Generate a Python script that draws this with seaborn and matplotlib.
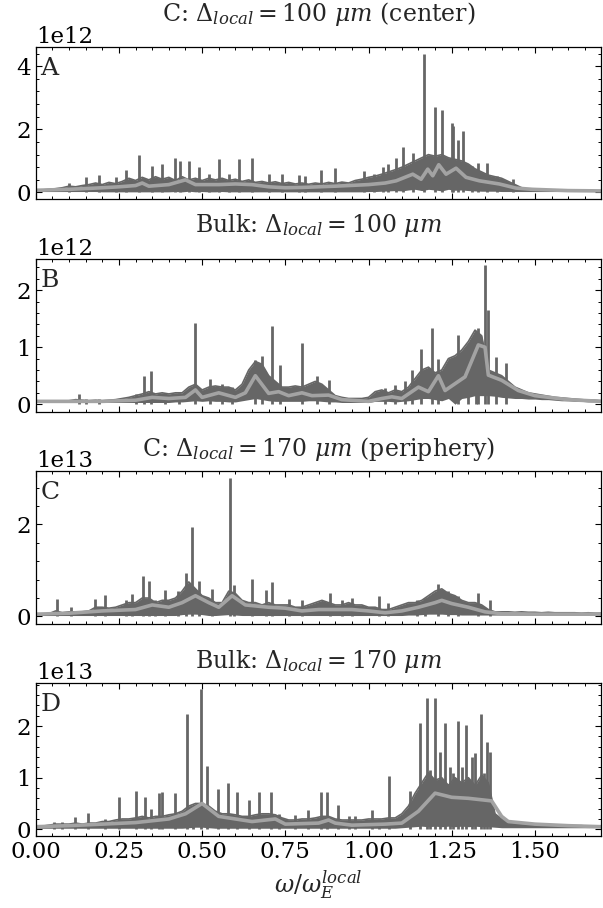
import numpy as np
import pandas as pd
import matplotlib
matplotlib.use("Agg")
import matplotlib.pyplot as plt
from matplotlib.ticker import MultipleLocator, AutoMinorLocator
import seaborn as sns

sns.set_theme(style="ticks", rc={
    "axes.edgecolor": "black",
    "axes.linewidth": 0.9,
    "xtick.direction": "in",
    "ytick.direction": "in",
    "xtick.top": True,
    "ytick.right": True,
    "xtick.major.size": 4.3,
    "ytick.major.size": 4.3,
    "xtick.minor.size": 2.4,
    "ytick.minor.size": 2.4,
    "xtick.major.width": 0.8,
    "ytick.major.width": 0.8,
    "xtick.minor.width": 0.7,
    "ytick.minor.width": 0.7,
    "xtick.color": "black",
    "ytick.color": "black",
    "xtick.labelsize": 16.5,
    "ytick.labelsize": 16.5,
})
plt.rcParams["font.family"] = ["DejaVu Serif"]
plt.rcParams["mathtext.fontset"] = "dejavuserif"

DARK = "#666666"
LIGHT = "#a3a3a3"

# frequency grid of the spectra (omega / omega_E^local), step 0.02
omega = np.round(np.arange(0, 1.7001, 0.02), 2)

# ---- panel A : C, 100 um (center), units 1e12 ----
A_hi = [0.07, 0.08, 0.10, 0.12, 0.15, 0.20, 0.18, 0.22, 0.25, 0.30,
        0.25, 0.32, 0.28, 0.35, 0.45, 0.38, 0.48, 0.40, 0.50, 0.42,
        0.48, 0.38, 0.50, 0.40, 0.45, 0.38, 0.45, 0.40, 0.45, 0.38,
        0.42, 0.35, 0.40, 0.32, 0.35, 0.30, 0.34, 0.28, 0.32, 0.27,
        0.30, 0.26, 0.30, 0.27, 0.32, 0.28, 0.33, 0.30, 0.38, 0.42,
        0.48, 0.52, 0.58, 0.65, 0.72, 0.80, 0.90, 1.00, 1.10, 1.20,
        1.15, 1.20, 1.10, 1.05, 1.00, 0.90, 0.75, 0.65, 0.55, 0.50,
        0.45, 0.35, 0.25, 0.15, 0.10, 0.08, 0.07, 0.07, 0.07, 0.06,
        0.06, 0.06, 0.06, 0.05, 0.05, 0.05]
A_lo = [0.03, 0.03, 0.03, 0.03, 0.03, 0.03, 0.03, 0.03, 0.03, 0.03,
        0.02, 0.02, 0.02, 0.02, 0.02, 0.02, 0.02, 0.02, 0.02, 0.02,
        0.02, 0.03, 0.02, 0.04, 0.02, 0.03, 0.02, 0.02, 0.03, 0.02,
        0.02, 0.02, 0.02, 0.02, 0.02, 0.02, 0.02, 0.02, 0.02, 0.02,
        0.02, 0.02, 0.02, 0.02, 0.02, 0.02, 0.02, 0.02, 0.02, 0.02,
        0.03, 0.03, 0.04, 0.05, 0.06, 0.05, 0.08, 0.10, 0.06, 0.10,
        0.08, 0.05, 0.10, 0.07, 0.08, 0.06, 0.05, 0.04, 0.04, 0.04,
        0.03, 0.03, 0.03, 0.03, 0.03, 0.03, 0.03, 0.03, 0.03, 0.03,
        0.03, 0.03, 0.03, 0.03, 0.03, 0.03]
A_spike_x = [0.10, 0.15, 0.19, 0.24, 0.27, 0.31, 0.35, 0.38, 0.42, 0.435,
             0.46, 0.49, 0.52, 0.55, 0.58, 0.61, 0.65, 0.70, 0.74, 0.79,
             0.81, 0.856, 0.90, 0.985, 1.015, 1.045, 1.06, 1.082, 1.105, 1.135,
             1.168, 1.20, 1.222, 1.25, 1.255, 1.268, 1.283, 1.31, 1.33, 1.355,
             1.387, 1.434]
A_spike_h = [0.30, 0.50, 0.55, 0.50, 0.70, 1.18, 0.85, 0.90, 1.10, 1.00,
             1.00, 0.80, 0.60, 1.05, 0.60, 1.05, 1.10, 0.60, 0.60, 0.55,
             0.53, 0.72, 0.78, 0.69, 0.60, 0.80, 0.90, 1.10, 1.43, 1.24,
             4.40, 2.70, 2.60, 2.20, 2.10, 1.65, 1.94, 0.85, 0.95, 0.95,
             0.53, 0.42]
A_smooth_x = [0.0, 0.1, 0.2, 0.25, 0.3, 0.32, 0.34, 0.4, 0.45, 0.48,
              0.55, 0.6, 0.65, 0.7, 0.75, 0.8, 0.9, 1.0, 1.05, 1.083,
              1.133, 1.158, 1.178, 1.193, 1.211, 1.233, 1.263, 1.293, 1.333, 1.393,
              1.443, 1.493, 1.6, 1.7]
A_smooth_y = [0.07, 0.10, 0.15, 0.18, 0.22, 0.30, 0.20, 0.25, 0.40, 0.25,
              0.25, 0.27, 0.25, 0.18, 0.15, 0.16, 0.20, 0.25, 0.30, 0.37,
              0.58, 0.42, 0.74, 0.53, 0.88, 0.58, 0.77, 0.48, 0.37, 0.27,
              0.14, 0.10, 0.06, 0.05]

# ---- panel B : Bulk, 100 um, units 1e12 ----
B_hi = [0.05, 0.05, 0.05, 0.05, 0.05, 0.06, 0.08, 0.07, 0.06, 0.07,
        0.06, 0.07, 0.08, 0.10, 0.12, 0.15, 0.18, 0.22, 0.18, 0.20,
        0.18, 0.20, 0.20, 0.30, 0.35, 0.25, 0.30, 0.32, 0.30, 0.30,
        0.25, 0.35, 0.60, 0.75, 0.70, 0.50, 0.40, 0.30, 0.30, 0.32,
        0.30, 0.35, 0.40, 0.35, 0.25, 0.15, 0.12, 0.10, 0.10, 0.10,
        0.12, 0.22, 0.25, 0.20, 0.25, 0.22, 0.30, 0.45, 0.60, 0.65,
        0.55, 0.60, 0.80, 0.85, 0.95, 1.10, 1.30, 1.20, 0.60, 0.55,
        0.50, 0.40, 0.30, 0.25, 0.20, 0.18, 0.16, 0.14, 0.12, 0.11,
        0.10, 0.09, 0.08, 0.07, 0.07, 0.06]
B_lo = [0.03, 0.03, 0.03, 0.03, 0.03, 0.03, 0.03, 0.03, 0.03, 0.03,
        0.03, 0.03, 0.03, 0.03, 0.03, 0.03, 0.03, 0.03, 0.03, 0.03,
        0.03, 0.04, 0.04, 0.05, 0.06, 0.05, 0.06, 0.05, 0.05, 0.04,
        0.04, 0.06, 0.08, 0.10, 0.08, 0.06, 0.05, 0.05, 0.05, 0.05,
        0.05, 0.06, 0.06, 0.05, 0.04, 0.04, 0.03, 0.03, 0.03, 0.03,
        0.03, 0.05, 0.05, 0.05, 0.04, 0.05, 0.06, 0.08, 0.10, 0.10,
        0.08, 0.06, 0.10, 0.00, 0.10, 0.12, 0.15, 0.15, 0.15, 0.14,
        0.12, 0.11, 0.10, 0.10, 0.09, 0.09, 0.08, 0.08, 0.07, 0.06,
        0.06, 0.05, 0.05, 0.04, 0.04, 0.04]
B_spike_x = [0.13, 0.15, 0.19, 0.30, 0.325, 0.345, 0.39, 0.43, 0.48, 0.525,
             0.56, 0.59, 0.66, 0.681, 0.711, 0.734, 0.80, 0.846, 0.88, 1.05,
             1.08, 1.11, 1.13, 1.158, 1.19, 1.208, 1.268, 1.30, 1.324, 1.33,
             1.349, 1.36, 1.384, 1.414]
B_spike_h = [0.18, 0.10, 0.10, 0.18, 0.50, 0.58, 0.20, 0.20, 1.42, 0.45,
             0.35, 0.30, 0.77, 0.84, 1.37, 0.68, 1.08, 0.50, 0.42, 0.28,
             0.33, 0.41, 0.60, 0.96, 1.33, 0.80, 1.22, 1.04, 1.15, 1.33,
             2.44, 1.65, 0.83, 0.73]
B_smooth_x = [0.0, 0.2, 0.3, 0.35, 0.4, 0.45, 0.48, 0.5, 0.55, 0.6,
              0.63, 0.66, 0.7, 0.73, 0.76, 0.8, 0.83, 0.88, 0.92, 1.0,
              1.04, 1.07, 1.1, 1.15, 1.18, 1.21, 1.23, 1.29, 1.33, 1.35,
              1.36, 1.4, 1.45, 1.5, 1.6, 1.7]
B_smooth_y = [0.05, 0.05, 0.07, 0.12, 0.10, 0.12, 0.25, 0.12, 0.20, 0.12,
              0.20, 0.50, 0.19, 0.22, 0.15, 0.20, 0.15, 0.16, 0.08, 0.05,
              0.10, 0.13, 0.10, 0.30, 0.22, 0.50, 0.24, 0.48, 1.04, 1.00,
              0.51, 0.42, 0.24, 0.15, 0.08, 0.05]

# ---- panel C : C, 170 um (periphery), units 1e13 ----
C_hi = [0.05, 0.05, 0.06, 0.12, 0.08, 0.10, 0.10, 0.10, 0.12, 0.20,
        0.20, 0.18, 0.20, 0.25, 0.30, 0.30, 0.40, 0.40, 0.30, 0.35,
        0.35, 0.40, 0.55, 0.75, 0.60, 0.45, 0.40, 0.30, 0.30, 0.55,
        0.50, 0.35, 0.30, 0.30, 0.25, 0.30, 0.25, 0.25, 0.25, 0.20,
        0.20, 0.25, 0.30, 0.35, 0.30, 0.25, 0.25, 0.30, 0.25, 0.25,
        0.20, 0.20, 0.15, 0.15, 0.20, 0.25, 0.30, 0.30, 0.35, 0.45,
        0.55, 0.60, 0.50, 0.45, 0.35, 0.30, 0.30, 0.25, 0.15, 0.10,
        0.10, 0.10, 0.09, 0.10, 0.09, 0.09, 0.08, 0.09, 0.08, 0.08,
        0.08, 0.08, 0.07, 0.08, 0.07, 0.07]
C_lo = [0.02, 0.02, 0.02, 0.02, 0.02, 0.02, 0.02, 0.02, 0.02, 0.02,
        0.02, 0.02, 0.02, 0.02, 0.02, 0.02, 0.02, 0.02, 0.02, 0.02,
        0.02, 0.02, 0.04, 0.05, 0.05, 0.04, 0.02, 0.02, 0.03, 0.04,
        0.03, 0.02, 0.02, 0.02, 0.02, 0.02, 0.02, 0.02, 0.02, 0.02,
        0.02, 0.02, 0.02, 0.02, 0.02, 0.02, 0.02, 0.02, 0.02, 0.02,
        0.02, 0.02, 0.02, 0.02, 0.02, 0.02, 0.03, 0.03, 0.04, 0.05,
        0.05, 0.05, 0.04, 0.04, 0.03, 0.03, 0.03, 0.03, 0.03, 0.03,
        0.03, 0.03, 0.03, 0.03, 0.03, 0.03, 0.03, 0.03, 0.03, 0.03,
        0.03, 0.03, 0.03, 0.03, 0.03, 0.03]
C_spike_x = [0.063, 0.106, 0.177, 0.207, 0.272, 0.29, 0.322, 0.34, 0.357, 0.389,
             0.427, 0.452, 0.47, 0.492, 0.53, 0.584, 0.596, 0.651, 0.691, 0.711,
             0.76, 0.80, 0.885, 0.92, 0.95, 1.03, 1.06, 1.145, 1.17, 1.21,
             1.24, 1.27, 1.33, 1.365]
C_spike_h = [0.38, 0.20, 0.37, 0.47, 0.36, 0.48, 0.87, 0.78, 0.36, 0.58,
             0.55, 0.94, 1.95, 0.76, 0.60, 3.00, 0.69, 0.81, 0.58, 0.74,
             0.38, 0.35, 0.50, 0.35, 0.40, 0.45, 0.30, 0.35, 0.40, 0.70,
             0.55, 0.45, 0.50, 0.35]
C_smooth_x = [0.0, 0.1, 0.2, 0.3, 0.35, 0.4, 0.44, 0.48, 0.52, 0.55,
              0.59, 0.63, 0.7, 0.75, 0.8, 0.85, 0.95, 1.0, 1.05, 1.1,
              1.15, 1.2, 1.22, 1.25, 1.3, 1.35, 1.4, 1.5, 1.7]
C_smooth_y = [0.05, 0.07, 0.12, 0.15, 0.25, 0.20, 0.30, 0.45, 0.30, 0.20,
              0.45, 0.25, 0.20, 0.18, 0.12, 0.15, 0.15, 0.12, 0.08, 0.12,
              0.20, 0.30, 0.35, 0.28, 0.20, 0.10, 0.06, 0.05, 0.05]

# ---- panel D : Bulk, 170 um, units 1e13 ----
D_hi = [0.05, 0.06, 0.08, 0.10, 0.10, 0.10, 0.12, 0.10, 0.12, 0.12,
        0.15, 0.15, 0.18, 0.20, 0.20, 0.22, 0.25, 0.22, 0.25, 0.25,
        0.28, 0.30, 0.35, 0.45, 0.50, 0.50, 0.45, 0.35, 0.30, 0.30,
        0.28, 0.25, 0.25, 0.28, 0.30, 0.30, 0.28, 0.22, 0.18, 0.18,
        0.20, 0.20, 0.22, 0.25, 0.25, 0.20, 0.18, 0.18, 0.18, 0.18,
        0.20, 0.20, 0.20, 0.22, 0.22, 0.30, 0.45, 0.70, 0.90, 1.10,
        0.95, 1.00, 0.85, 1.00, 0.90, 1.00, 0.85, 1.05, 0.90, 0.30,
        0.20, 0.15, 0.12, 0.11, 0.10, 0.09, 0.09, 0.08, 0.08, 0.08,
        0.07, 0.07, 0.07, 0.06, 0.06, 0.06]
D_lo = [0.02, 0.02, 0.02, 0.02, 0.02, 0.02, 0.02, 0.02, 0.02, 0.02,
        0.02, 0.02, 0.02, 0.02, 0.02, 0.02, 0.02, 0.02, 0.02, 0.02,
        0.02, 0.02, 0.02, 0.03, 0.04, 0.04, 0.03, 0.02, 0.02, 0.02,
        0.02, 0.02, 0.02, 0.02, 0.02, 0.02, 0.02, 0.02, 0.02, 0.02,
        0.02, 0.02, 0.02, 0.02, 0.02, 0.02, 0.02, 0.02, 0.02, 0.02,
        0.02, 0.02, 0.02, 0.02, 0.02, 0.03, 0.04, 0.05, 0.06, 0.05,
        0.06, 0.05, 0.06, 0.05, 0.06, 0.05, 0.06, 0.05, 0.05, 0.04,
        0.03, 0.03, 0.03, 0.03, 0.03, 0.03, 0.03, 0.03, 0.03, 0.03,
        0.03, 0.03, 0.03, 0.03, 0.03, 0.03]
D_spike_x = [0.055, 0.08, 0.118, 0.157, 0.207, 0.25, 0.302, 0.327, 0.347, 0.37,
             0.38, 0.42, 0.454, 0.474, 0.497, 0.514, 0.548, 0.579, 0.606, 0.64,
             0.671, 0.706, 0.73, 0.78, 0.819, 0.856, 0.876, 0.908, 0.94, 0.96,
             1.01, 1.03, 1.062, 1.125, 1.155, 1.175, 1.185, 1.20, 1.215, 1.23,
             1.245, 1.255, 1.268, 1.28, 1.292, 1.31, 1.32, 1.337, 1.347, 1.357,
             1.365]
D_spike_h = [0.15, 0.15, 0.23, 0.31, 0.20, 0.63, 0.74, 0.62, 0.39, 0.71,
             0.73, 0.70, 2.23, 0.45, 2.71, 1.23, 0.79, 0.89, 0.73, 0.57,
             0.73, 0.72, 0.30, 0.28, 0.38, 0.73, 0.73, 0.48, 0.25, 0.25,
             0.38, 0.20, 1.03, 0.74, 2.05, 2.55, 1.15, 2.55, 1.50, 2.05,
             1.20, 1.10, 2.10, 1.20, 2.02, 1.40, 1.47, 2.23, 1.10, 1.70,
             1.50]
D_smooth_x = [0.0, 0.1, 0.2, 0.3, 0.4, 0.45, 0.5, 0.55, 0.6, 0.65,
              0.72, 0.75, 0.85, 0.88, 0.9, 0.95, 1.05, 1.1, 1.15, 1.2,
              1.25, 1.3, 1.37, 1.4, 1.42, 1.5, 1.6, 1.7]
D_smooth_y = [0.05, 0.07, 0.10, 0.13, 0.20, 0.30, 0.50, 0.25, 0.20, 0.15,
              0.20, 0.10, 0.12, 0.18, 0.12, 0.08, 0.10, 0.12, 0.35, 0.70,
              0.62, 0.60, 0.55, 0.25, 0.15, 0.10, 0.07, 0.05]

panels = [
    dict(label="A", scale=1e12, hi=A_hi, lo=A_lo, sx=A_spike_x, sh=A_spike_h,
         mx=A_smooth_x, my=A_smooth_y, ylim=(-0.22, 4.62), major=2,
         title=r"C: $\Delta_{local} = 100\ \mu m$ (center)", tpad=33),
    dict(label="B", scale=1e12, hi=B_hi, lo=B_lo, sx=B_spike_x, sh=B_spike_h,
         mx=B_smooth_x, my=B_smooth_y, ylim=(-0.13, 2.55), major=1,
         title=r"Bulk: $\Delta_{local} = 100\ \mu m$", tpad=33),
    dict(label="C", scale=1e13, hi=C_hi, lo=C_lo, sx=C_spike_x, sh=C_spike_h,
         mx=C_smooth_x, my=C_smooth_y, ylim=(-0.16, 3.16), major=2,
         title=r"C: $\Delta_{local} = 170\ \mu m$ (periphery)", tpad=22),
    dict(label="D", scale=1e13, hi=D_hi, lo=D_lo, sx=D_spike_x, sh=D_spike_h,
         mx=D_smooth_x, my=D_smooth_y, ylim=(-0.13, 2.83), major=1,
         title=r"Bulk: $\Delta_{local} = 170\ \mu m$", tpad=22),
]

fig, axes = plt.subplots(4, 1, figsize=(6.03, 9.08), dpi=100, sharex=True)
fig.subplots_adjust(left=0.0592, right=0.9975, top=0.9486, bottom=0.0793, hspace=0.389)

for ax, p in zip(axes, panels):
    s = p["scale"]
    band = pd.DataFrame({"omega": omega,
                         "hi": np.array(p["hi"]) * s,
                         "lo": np.array(p["lo"]) * s})
    smooth = pd.DataFrame({"omega": p["mx"], "val": np.array(p["my"]) * s})

    # dense oscillating spectrum
    ax.fill_between(band["omega"], band["lo"], band["hi"], color=DARK, lw=0)
    sns.lineplot(data=band, x="omega", y="hi", ax=ax, color=DARK, lw=1.2)
    ax.vlines(p["sx"], 0, np.array(p["sh"]) * s, color=DARK, lw=2.0)
    # smoothed spectrum
    sns.lineplot(data=smooth, x="omega", y="val", ax=ax, color=LIGHT, lw=2.6)

    ax.set_xlim(0, 1.7)
    ax.set_ylim(p["ylim"][0] * s, p["ylim"][1] * s)
    ax.xaxis.set_major_locator(MultipleLocator(0.25))
    ax.xaxis.set_minor_locator(AutoMinorLocator(5))
    ax.yaxis.set_major_locator(MultipleLocator(p["major"] * s))
    ax.yaxis.set_minor_locator(AutoMinorLocator(5))
    ax.set_xlabel("")
    ax.set_ylabel("")
    h_px = ax.get_position().height * fig.get_figheight() * fig.dpi
    ax.set_title(p["title"], fontsize=17, y=1 + p["tpad"] / h_px, pad=0,
                 va="center")
    ax.text(0.008, 0.935, p["label"], transform=ax.transAxes, fontsize=18,
            ha="left", va="top")

axes[-1].set_xlabel(r"$\omega/\omega_E^{local}$", fontsize=17)

fig.savefig("out.png", dpi=100)
